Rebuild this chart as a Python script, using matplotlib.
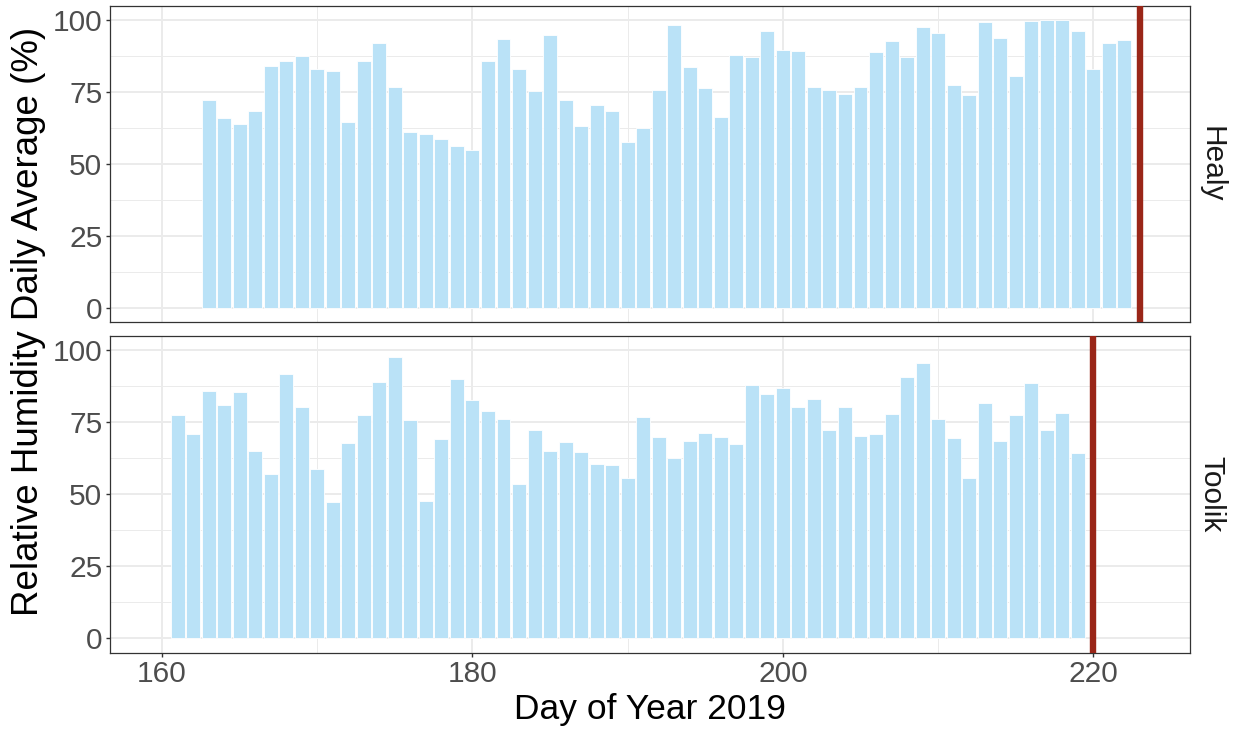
import numpy as np
import matplotlib
matplotlib.use('Agg')
import matplotlib.pyplot as plt
from matplotlib.ticker import MultipleLocator

# 数据
healy_days = list(range(163, 223))
healy_rh = [72.4, 66.1, 64.0, 68.4, 84.0, 85.7, 87.5, 83.2, 82.5, 64.6,
            85.9, 92.0, 76.8, 61.0, 60.4, 58.6, 56.3, 54.8, 85.9, 93.4,
            83.0, 75.5, 94.8, 72.3, 63.4, 70.4, 68.5, 57.7, 62.4, 75.8,
            98.3, 83.7, 76.4, 66.3, 88.0, 87.3, 96.3, 89.7, 89.4, 76.8,
            75.9, 74.4, 76.8, 88.9, 92.8, 87.3, 97.6, 95.5, 77.4, 73.9,
            99.5, 93.9, 80.6, 99.9, 100.0, 100.0, 96.4, 83.2, 92.2, 93.0]
toolik_days = list(range(161, 220))
toolik_rh = [77.4, 71.0, 86.0, 80.9, 85.4, 64.9, 57.0, 91.9, 80.5, 58.8,
             47.4, 67.8, 77.6, 88.9, 97.7, 75.8, 47.8, 69.1, 89.9, 82.7,
             79.0, 76.1, 53.6, 72.5, 64.9, 68.3, 64.7, 60.6, 60.2, 55.7,
             77.0, 69.8, 62.5, 68.6, 71.3, 69.9, 67.5, 87.9, 84.8, 87.1,
             80.2, 83.2, 72.3, 80.2, 70.4, 70.8, 77.9, 90.7, 95.7, 76.2,
             69.6, 55.7, 81.9, 68.4, 77.7, 88.6, 72.3, 78.4, 64.2]
sites = ['Healy', 'Toolik']
cutoff_day = [223, 220]

plt.rcParams['font.family'] = ['Liberation Sans', 'DejaVu Sans']

fig = plt.figure(figsize=(12.39, 7.33), dpi=100)
ax1 = fig.add_axes([0.0888, 0.5607, 0.8713, 0.4311])
ax2 = fig.add_axes([0.0888, 0.1095, 0.8713, 0.4321])

all_days = [healy_days, toolik_days]
all_rh = [healy_rh, toolik_rh]
for i, ax in enumerate([ax1, ax2]):
    ax.set_axisbelow(True)
    ax.bar(all_days[i], all_rh[i], width=0.9, color='#BAE2F7',
           edgecolor='white', linewidth=0.6, zorder=2)
    ax.axvline(cutoff_day[i], color='#9A2618', linewidth=4.6, zorder=3)
    ax.set_xlim(156.65, 226.2)
    ax.set_ylim(-5, 105)
    ax.xaxis.set_major_locator(MultipleLocator(20))
    ax.xaxis.set_minor_locator(MultipleLocator(10))
    ax.yaxis.set_major_locator(MultipleLocator(25))
    ax.yaxis.set_minor_locator(MultipleLocator(12.5))
    ax.grid(which='major', color='#EBEBEB', linewidth=1.4, zorder=0)
    ax.grid(which='minor', color='#EBEBEB', linewidth=0.7, zorder=0)
    ax.tick_params(which='minor', length=0)
    ax.tick_params(which='major', length=3, width=1, color='#333333',
                   labelsize=21.5, labelcolor='#4D4D4D', pad=2.5)
    for s in ax.spines.values():
        s.set_color('#333333')
        s.set_linewidth(0.9)
    ax.text(1.02, 0.5, sites[i], transform=ax.transAxes, rotation=-90,
            ha='center', va='center', fontsize=21.5, color='#1A1A1A')

ax1.tick_params(axis='x', which='major', length=0, labelbottom=False)
ax2.set_xlabel('Day of Year 2019', fontsize=25.5, labelpad=3)
fig.text(0.023, 0.562, 'Relative Humidity Daily Average (%)', rotation=90,
         ha='center', va='center', fontsize=26.5)

plt.savefig('out.png', dpi=100)
